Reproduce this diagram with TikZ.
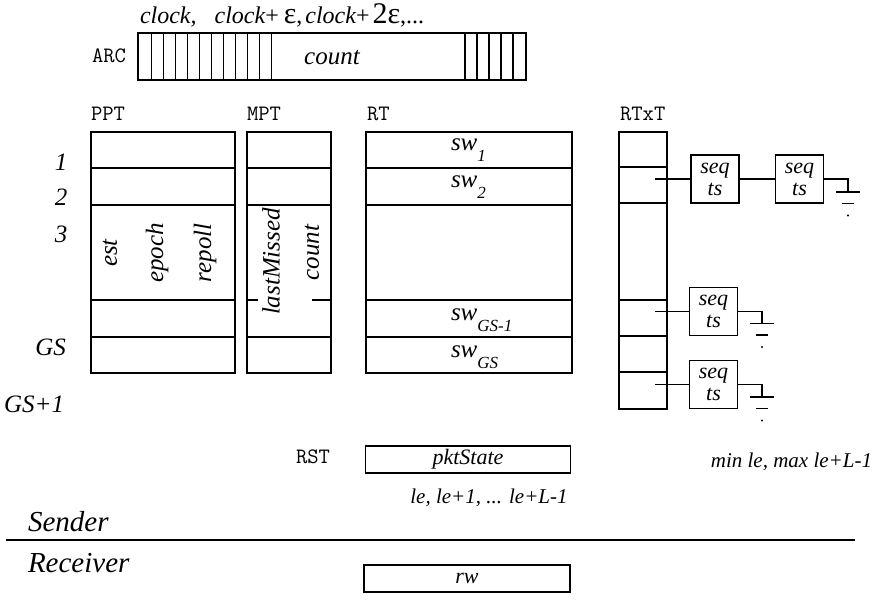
\documentclass[tikz,border=0pt]{standalone}
\usepackage{fontspec}
\setmainfont{Liberation Serif}
\newcommand\fsz[1]{\fontsize{#1}{#1}\selectfont}
\newcommand\swsub[1]{\textit{sw}\raisebox{-11pt}{\fsz{17}\itshape #1}}
\begin{document}
\begin{tikzpicture}[x=1pt,y=-1pt,line width=1.35pt,
  every node/.style={inner sep=0pt,outer sep=0pt},
  ttlabel/.style={font=\ttfamily\fsz{22},anchor=base west},
  itlabel/.style={font=\itshape\fsz{25}},
  rowlabel/.style={font=\itshape\fsz{25},anchor=base},
  vtext/.style={font=\itshape\fsz{25},rotate=90},
  swlabel/.style={font=\fsz{25},anchor=base west},
  seqbox/.style={draw,minimum width=48pt,minimum height=48pt,align=center,font=\itshape\fsz{22}},
  strip/.style={draw,minimum height=27pt,minimum width=205pt,font=\itshape\fsz{22}},
  gnd/.pic={\draw (-12,0) -- (12,0); \draw (-6,11.5) -- (6,11.5); \fill (0,23.5) circle (1.1pt);}
]
\useasboundingbox (0,0) rectangle (874,605);

% top caption
\node[anchor=base west,font=\fsz{24}] (top) at (140,23)
  {\itshape clock,\hspace{18pt}clock\upshape+\hspace{5pt}{\fsz{30}ε},\hspace{3pt}\itshape clock\upshape+\hspace{3pt}{\fsz{30}2ε},...};

% ARC
\node[ttlabel] (arclbl) at (92,62) {ARC};
\draw (138,33) rectangle (526,80);
\foreach \x in {151.5,163.5,...,271.5} \draw (\x,33) -- (\x,80);
\foreach \x in {465,477,489,501,513} \draw (\x,33) -- (\x,80);
\node[itlabel,anchor=base] (arccount) at (332,64) {count};

% table labels
\node[ttlabel] (pptl) at (91,120) {PPT};
\node[ttlabel] (mptl) at (247,120) {MPT};
\node[ttlabel] (rtl) at (367,120) {RT};
\node[ttlabel] (rtxtl) at (620,120) {RTxT};

% row labels
\node[rowlabel] (r1) at (61,170) {1};
\node[rowlabel] (r2) at (61,205) {2};
\node[rowlabel] (r3) at (61,242) {3};
\node[rowlabel,anchor=base east] (rgs) at (66,355) {GS};
\node[rowlabel,anchor=base east] (rgs1) at (64,412) {GS+1};

% PPT
\draw (91,132) rectangle (235,373);
\foreach \y in {168,205,300,337} \draw (91,\y) -- (235,\y);
\node[vtext] (est) at (110,253) {est};
\node[vtext] (epoch) at (157,253) {epoch};
\node[vtext] (repoll) at (205,253) {repoll};

% MPT
\draw (247,132) rectangle (331,373);
\foreach \y in {168,205,337} \draw (247,\y) -- (331,\y);
\draw (247,300) -- (258,300);
\draw (312,300) -- (331,300);
\node[vtext] (lastm) at (271,261.5) {lastMissed};
\node[vtext] (mcount) at (312,252.5) {count};

% RT
\draw (366,132) rectangle (572,373);
\foreach \y in {168,205,300,337} \draw (366,\y) -- (572,\y);
\node[swlabel] (sw1) at (451,150) {\swsub{1}};
\node[swlabel] (sw2) at (451,187) {\swsub{2}};
\node[swlabel] (swgsm) at (451,320) {\swsub{GS-1}};
\node[swlabel] (swgs) at (451,357) {\swsub{GS}};

% RTxT
\draw (619,132) rectangle (667,409);
\foreach \y in {167,203,300,336,372} \draw (619,\y) -- (667,\y);
\coordinate (p2) at (655,179);
\coordinate (pa) at (655,311.5);
\coordinate (pb) at (655,384.5);
\node[seqbox] (s1) at (715,179) {seq\\ts};
\node[seqbox] (s2) at (799.5,179) {seq\\ts};
\node[seqbox] (s3) at (713.5,311.5) {seq\\ts};
\node[seqbox] (s4) at (713.5,384.5) {seq\\ts};
\draw (p2) -- (s1);
\draw (s1) -- (s2);
\draw (pa) -- (s3);
\draw (pb) -- (s4);
\coordinate (g1) at (848,192);
\coordinate (g3) at (762,323.5);
\coordinate (g4) at (762,397);
\draw (s2.east) -| (g1);
\draw (s3.east) -| (g3);
\draw (s4.east) -| (g4);
\pic at (g1) {gnd};
\pic at (g3) {gnd};
\pic at (g4) {gnd};

% bottom
\node[ttlabel] (rstl) at (296,463) {RST};
\node[strip] (rst) at (468,459.5) {pktState};
\node[anchor=base east,font=\itshape\fsz{21}] (minmax) at (872,467) {min le, max le+L-1};
\node[anchor=base,font=\itshape\fsz{21}] (range) at (489,503) {le, le+1, ... le+L-1};
\node[anchor=base west,font=\itshape\fsz{29}] (sender) at (28,531) {Sender};
\draw (5.6,540) -- (855,540);
\node[anchor=base west,font=\itshape\fsz{29}] (recv) at (28,572) {Receiver};
\node[strip,minimum width=206pt] (rw) at (467,578.5) {rw};
\end{tikzpicture}
\end{document}
